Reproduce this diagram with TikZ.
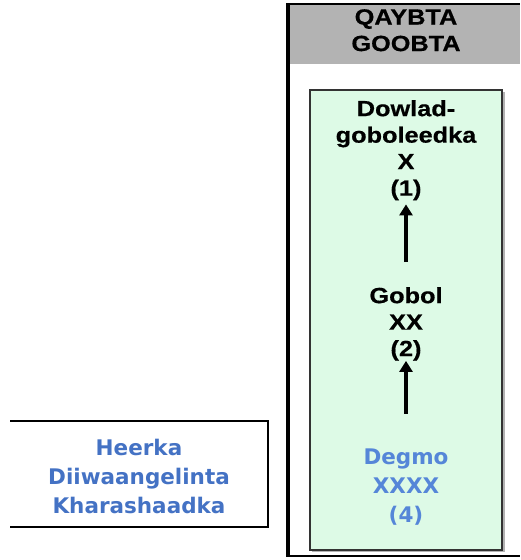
\documentclass[tikz,border=0pt]{standalone}
\usepackage{fontspec}
\usetikzlibrary{arrows.meta}
\newfontfamily\hfont[FakeStretch=1.15,FakeBold=0.6]{Liberation Sans Bold}
\newfontfamily\bfont{DejaVu Sans Bold}
\definecolor{hdrgray}{HTML}{B3B3B3}
\definecolor{mint}{HTML}{DDFAE6}
\definecolor{boxline}{HTML}{333333}
\definecolor{txtblue}{HTML}{4472C4}
\definecolor{lightblue}{HTML}{5586D8}
\tikzset{
  blacktxt/.style={align=center, inner sep=0pt, anchor=north, text=black,
    font={\hfont\fontsize{22}{26.5}\selectfont}},
  bluetxt/.style={align=center, inner sep=0pt, anchor=north, text=txtblue,
    font={\bfont\fontsize{21.5}{29}\selectfont}},
  degtxt/.style={bluetxt, text=lightblue},
  arr/.style={line width=4pt, -{Triangle[length=11pt,width=13pt]}}
}
\begin{document}
\begin{tikzpicture}[x=1pt,y=-1pt]
\useasboundingbox (0,0) rectangle (520,560);
% outer container
\fill[hdrgray] (289,4) rectangle (520,64);
\draw[line width=1.2pt] (288,4) -- (520,4);
\draw[line width=1.5pt] (288,556) -- (520,556);
\draw[line width=4pt] (288,3) -- (288,557);
\node[blacktxt, text width=200pt] (hdr) at (406,9) {QAYBTA\\GOOBTA};
% green box
\fill[gray!60] (312,92) rectangle (504.5,551.5);
\draw[boxline, line width=1.5pt, fill=mint] (310,90) rectangle (502,550);
% texts
\node[blacktxt] (n1) at (406,100) {Dowlad-\\goboleedka\\X\\(1)};
\node[blacktxt] (n2) at (406,287) {Gobol\\XX\\(2)};
\node[degtxt] (n4) at (406,448.5) {Degmo\\XXXX\\(4)};
% arrows
\draw[arr, shorten <=25pt, shorten >=4pt] (n2.north) -- (n1.south);
\draw[arr, shorten <=35pt, shorten >=0pt] (n4.north) -- (n2.south);
% left box
\draw[line width=1.5pt] (10,421) -- (268,421) -- (268,527) -- (10,527);
\node[bluetxt] (reg) at (139,438.5) {Heerka\\Diiwaangelinta\\Kharashaadka};
\end{tikzpicture}
\end{document}
